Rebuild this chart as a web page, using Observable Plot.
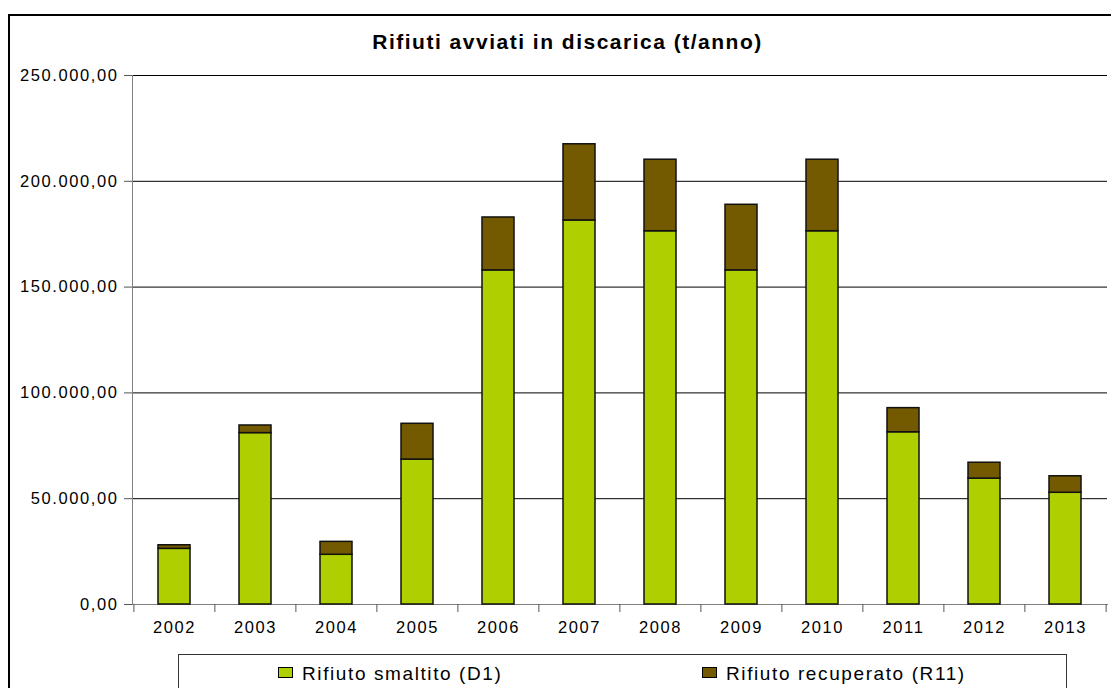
<!DOCTYPE html>
<html>
<head>
<meta charset="utf-8">
<script src="https://cdn.jsdelivr.net/npm/d3@7"></script>
<script src="https://cdn.jsdelivr.net/npm/@observablehq/plot@0.6"></script>
<style>
  html, body { margin: 0; padding: 0; background: #fff; overflow: hidden; }
  #wrap { position: relative; width: 1111px; height: 688px; overflow: hidden; font-family: "Liberation Sans", Arial, sans-serif; }
  #frame { position: absolute; left: 8px; top: 14px; width: 1200px; height: 800px; border: 2px solid #000; box-sizing: border-box; }
  #title { position: absolute; left: 0; top: 31px; width: 1135px; text-align: center; font-size: 21px; line-height: 21px; font-weight: bold; letter-spacing: 1.5px; color: #000; }
  #chart { position: absolute; left: 0; top: 0; }
  #legend { position: absolute; left: 178px; top: 654px; width: 889px; height: 60px; border: 1px solid #333; box-sizing: border-box; background: #fff; }
  .item { position: absolute; top: 9px; font-size: 19px; line-height: 19px; letter-spacing: 1.6px; color: #000; white-space: nowrap; }
  .sw { position: absolute; top: 3px; width: 13px; height: 9px; border: 1px solid #000; }
  .lab { position: absolute; left: 24px; top: 0; }
</style>
</head>
<body>
<div id="wrap">
  <div id="frame"></div>
  <div id="chart"></div>
  <div id="title"></div>
  <div id="legend"></div>
</div>
<script>
const title = "Rifiuti avviati in discarica (t/anno)";
const years = ["2002","2003","2004","2005","2006","2007","2008","2009","2010","2011","2012","2013"];
const seriesNames = ["Rifiuto smaltito (D1)", "Rifiuto recuperato (R11)"];
const seriesColors = ["#AFCF00", "#735A00"];
const smaltito = [26300, 81000, 23500, 68500, 157900, 181500, 176400, 157900, 176400, 81400, 59500, 52800];
const recuperato = [1700, 3600, 6100, 16900, 25000, 36000, 33800, 31000, 33800, 11400, 7500, 7800];
const yTicks = [0, 50000, 100000, 150000, 200000, 250000];

const data = years.flatMap((y, i) => [
  {year: y, serie: seriesNames[0], value: smaltito[i]},
  {year: y, serie: seriesNames[1], value: recuperato[i]}
]);

const itLocale = d3.formatLocale({decimal: ",", thousands: ".", grouping: [3], currency: ["", " €"]});
const fmt = itLocale.format(",.2f");

const W = 1111, H = 645, mL = 132, mR = 4, mT = 75, mB = 41;
const step = (W - mL - mR) / years.length;

const plot = Plot.plot({
  width: W,
  height: H,
  marginLeft: mL,
  marginRight: mR,
  marginTop: mT,
  marginBottom: mB,
  style: {background: "transparent", fontFamily: "'Liberation Sans', Arial, sans-serif", fontSize: "16.5px", color: "#000", overflow: "visible"},
  x: {domain: years, paddingInner: 0.6, paddingOuter: 0.3, label: null},
  y: {domain: [0, 250000], label: null},
  color: {domain: seriesNames, range: seriesColors},
  marks: [
    Plot.gridY(yTicks.slice(1), {stroke: "#000", strokeOpacity: 1, strokeWidth: 1}),
    Plot.frame({anchor: "left", stroke: "#808080"}),
    Plot.frame({anchor: "bottom", stroke: "#808080"}),
    Plot.axisY(yTicks, {tickSize: 8, tickPadding: 6, tickFormat: fmt, label: null, stroke: "#555"}),
    Plot.axisX({tickSize: 0, tickPadding: 17, label: null}),
    Plot.axisX({tickSize: 8, tickFormat: () => "", dx: -step / 2, label: null, stroke: "#555"}),
    Plot.axisX([years[years.length - 1]], {tickSize: 8, tickFormat: () => "", dx: step / 2, label: null, stroke: "#555"}),
    Plot.barY(data, {x: "year", y: "value", fill: "serie", stroke: "#111", strokeWidth: 1.5})
  ]
});
plot.style.letterSpacing = "1.6px";
document.getElementById("chart").appendChild(plot);

document.getElementById("title").textContent = title;

const legend = document.getElementById("legend");
const itemX = [99, 523];
seriesNames.forEach((name, i) => {
  const it = document.createElement("div");
  it.className = "item";
  it.style.left = itemX[i] + "px";
  const sw = document.createElement("div");
  sw.className = "sw";
  sw.style.background = seriesColors[i];
  const lab = document.createElement("div");
  lab.className = "lab";
  lab.textContent = name;
  it.appendChild(sw);
  it.appendChild(lab);
  legend.appendChild(it);
});
</script>
</body>
</html>
